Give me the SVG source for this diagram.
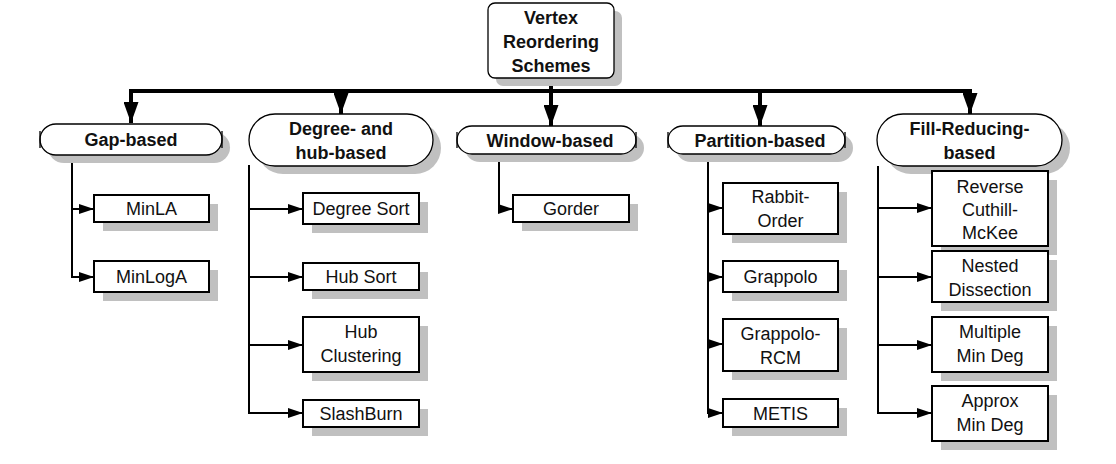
<svg xmlns="http://www.w3.org/2000/svg" width="1116" height="464" viewBox="0 0 1116 464">
<defs>
<style>
.sh{fill:#c0c0c0;stroke:none}
.hd{fill:#fff;stroke:#000;stroke-width:1.3}
.bx{fill:#fff;stroke:#000;stroke-width:2}
.tk{fill:none;stroke:#000;stroke-width:1.3}
.t{font-family:"Liberation Sans",Arial,sans-serif;font-size:18px;fill:#111;text-anchor:middle}
.b{font-weight:bold}
.ln{fill:none;stroke:#000;stroke-width:2}
.bar{fill:none;stroke:#000;stroke-width:4}
</style>
<marker id="big" markerUnits="userSpaceOnUse" viewBox="0 0 21 15" refX="21" refY="7.5" markerWidth="21" markerHeight="15" orient="auto"><path d="M0,0 L21,7.5 L0,15 Z" fill="#000"/></marker>
<marker id="sm" markerUnits="userSpaceOnUse" viewBox="0 0 15 10" refX="15" refY="5" markerWidth="15" markerHeight="10" orient="auto"><path d="M0,0 L15,5 L0,10 Z" fill="#000"/></marker>
</defs>
<rect width="1116" height="464" fill="#fff"/>

<g id="connectors">
<path class="bar" d="M551,78 V93"/>
<path class="bar" d="M131,91 H971"/>
<path class="bar" d="M131,89 V123" marker-end="url(#big)"/>
<path class="bar" d="M341,91 V114" marker-end="url(#big)"/>
<path class="bar" d="M551,91 V126" marker-end="url(#big)"/>
<path class="bar" d="M760,91 V126" marker-end="url(#big)"/>
<path class="bar" d="M970,89 V114" marker-end="url(#big)"/>
<path class="ln" d="M72,155 V209 H94" marker-end="url(#sm)"/>
<path class="ln" d="M72,209 V277 H94" marker-end="url(#sm)"/>
<path class="ln" d="M249,165 V413"/>
<path class="ln" d="M249,209 H303" marker-end="url(#sm)"/>
<path class="ln" d="M249,277 H303" marker-end="url(#sm)"/>
<path class="ln" d="M249,345 H303" marker-end="url(#sm)"/>
<path class="ln" d="M248,413 H303" marker-end="url(#sm)"/>
<path class="ln" d="M499,154 V209 H513" marker-end="url(#sm)"/>
<path class="ln" d="M708,154 V413"/>
<path class="ln" d="M707,208 H723" marker-end="url(#sm)"/>
<path class="ln" d="M707,277 H723" marker-end="url(#sm)"/>
<path class="ln" d="M707,344 H723" marker-end="url(#sm)"/>
<path class="ln" d="M707,413 H723" marker-end="url(#sm)"/>
<path class="ln" d="M878,166 V413"/>
<path class="ln" d="M878,208 H932" marker-end="url(#sm)"/>
<path class="ln" d="M878,277 H932" marker-end="url(#sm)"/>
<path class="ln" d="M878,345 H932" marker-end="url(#sm)"/>
<path class="ln" d="M877,413 H932" marker-end="url(#sm)"/>
</g>

<g id="root">
<rect class="sh" x="496" y="11" width="126" height="75" rx="7"/>
<rect class="hd" x="488" y="3" width="126" height="75" rx="7"/>
<text class="t b" x="551" y="24">Vertex</text>
<text class="t b" x="551" y="48">Reordering</text>
<text class="t b" x="551" y="72">Schemes</text>
</g>

<g id="gap-based">
<path class="sh" d="M64,132 H214 A16,15.5 0 0 1 214,163 H64 A16,15.5 0 0 1 64,132 Z"/>
<path class="hd" d="M56,124 H206 A16,15.5 0 0 1 206,155 H56 A16,15.5 0 0 1 56,124 Z"/>
<path class="tk" d="M40,131 V148 M222,131 V148"/>
<text class="t b" x="131" y="146">Gap-based</text>
</g>

<g id="degree-hub-based">
<rect class="sh" x="257" y="122" width="184" height="52" rx="26"/>
<rect class="hd" x="249" y="114" width="184" height="52" rx="26"/>
<text class="t b" x="341" y="135">Degree- and</text>
<text class="t b" x="341" y="159">hub-based</text>
</g>

<g id="window-based">
<path class="sh" d="M480,134 H629 A15,14 0 0 1 629,162 H480 A15,14 0 0 1 480,134 Z"/>
<path class="hd" d="M472,126 H621 A15,14 0 0 1 621,154 H472 A15,14 0 0 1 472,126 Z"/>
<path class="tk" d="M457,132 V148 M636,132 V148"/>
<text class="t b" x="550" y="147">Window-based</text>
</g>

<g id="partition-based">
<path class="sh" d="M691,134 H838 A15,14 0 0 1 838,162 H691 A15,14 0 0 1 691,134 Z"/>
<path class="hd" d="M683,126 H830 A15,14 0 0 1 830,154 H683 A15,14 0 0 1 683,126 Z"/>
<path class="tk" d="M668,132 V148 M845,132 V148"/>
<text class="t b" x="760" y="147">Partition-based</text>
</g>

<g id="fill-reducing-based">
<rect class="sh" x="885" y="122" width="185" height="52" rx="26"/>
<rect class="hd" x="877" y="114" width="185" height="52" rx="26"/>
<text class="t b" x="969.5" y="135">Fill-Reducing-</text>
<text class="t b" x="969.5" y="159">based</text>
</g>

<g id="minla">
<rect class="sh" x="103" y="204" width="115" height="27"/>
<rect class="bx" x="94" y="195" width="115" height="27"/>
<text class="t" x="151.5" y="215">MinLA</text>
</g>
<g id="minloga">
<rect class="sh" x="103" y="270" width="115" height="31"/>
<rect class="bx" x="94" y="261" width="115" height="31"/>
<text class="t" x="151.5" y="283">MinLogA</text>
</g>

<g id="degree-sort">
<rect class="sh" x="312" y="202" width="116" height="31"/>
<rect class="bx" x="303" y="193" width="116" height="31"/>
<text class="t" x="361" y="215">Degree Sort</text>
</g>
<g id="hub-sort">
<rect class="sh" x="312" y="272" width="116" height="27"/>
<rect class="bx" x="303" y="263" width="116" height="27"/>
<text class="t" x="361" y="283">Hub Sort</text>
</g>
<g id="hub-clustering">
<rect class="sh" x="312" y="326" width="116" height="55"/>
<rect class="bx" x="303" y="317" width="116" height="55"/>
<text class="t" x="361" y="338">Hub</text>
<text class="t" x="361" y="362">Clustering</text>
</g>
<g id="slashburn">
<rect class="sh" x="312" y="409" width="116" height="27"/>
<rect class="bx" x="303" y="400" width="116" height="27"/>
<text class="t" x="361" y="420">SlashBurn</text>
</g>

<g id="gorder">
<rect class="sh" x="522" y="204" width="116" height="27"/>
<rect class="bx" x="513" y="195" width="116" height="27"/>
<text class="t" x="571" y="215">Gorder</text>
</g>

<g id="rabbit-order">
<rect class="sh" x="732" y="192" width="115" height="51"/>
<rect class="bx" x="723" y="183" width="115" height="51"/>
<text class="t" x="780.5" y="203">Rabbit-</text>
<text class="t" x="780.5" y="227">Order</text>
</g>
<g id="grappolo">
<rect class="sh" x="732" y="270" width="115" height="31"/>
<rect class="bx" x="723" y="261" width="115" height="31"/>
<text class="t" x="780.5" y="283">Grappolo</text>
</g>
<g id="grappolo-rcm">
<rect class="sh" x="732" y="328" width="115" height="52"/>
<rect class="bx" x="723" y="319" width="115" height="52"/>
<text class="t" x="780.5" y="340">Grappolo-</text>
<text class="t" x="780.5" y="364">RCM</text>
</g>
<g id="metis">
<rect class="sh" x="732" y="408" width="115" height="28"/>
<rect class="bx" x="723" y="399" width="115" height="28"/>
<text class="t" x="780.5" y="420">METIS</text>
</g>

<g id="rcm">
<rect class="sh" x="941" y="180" width="116" height="75"/>
<rect class="bx" x="932" y="171" width="116" height="75"/>
<text class="t" x="990" y="193">Reverse</text>
<text class="t" x="990" y="216">Cuthill-</text>
<text class="t" x="990" y="239">McKee</text>
</g>
<g id="nested-dissection">
<rect class="sh" x="941" y="260" width="116" height="51"/>
<rect class="bx" x="932" y="251" width="116" height="51"/>
<text class="t" x="990" y="272">Nested</text>
<text class="t" x="990" y="296">Dissection</text>
</g>
<g id="multiple-min-deg">
<rect class="sh" x="941" y="326" width="116" height="55"/>
<rect class="bx" x="932" y="317" width="116" height="55"/>
<text class="t" x="990" y="338">Multiple</text>
<text class="t" x="990" y="362">Min Deg</text>
</g>
<g id="approx-min-deg">
<rect class="sh" x="941" y="395" width="116" height="55"/>
<rect class="bx" x="932" y="386" width="116" height="55"/>
<text class="t" x="990" y="407">Approx</text>
<text class="t" x="990" y="431">Min Deg</text>
</g>
</svg>
